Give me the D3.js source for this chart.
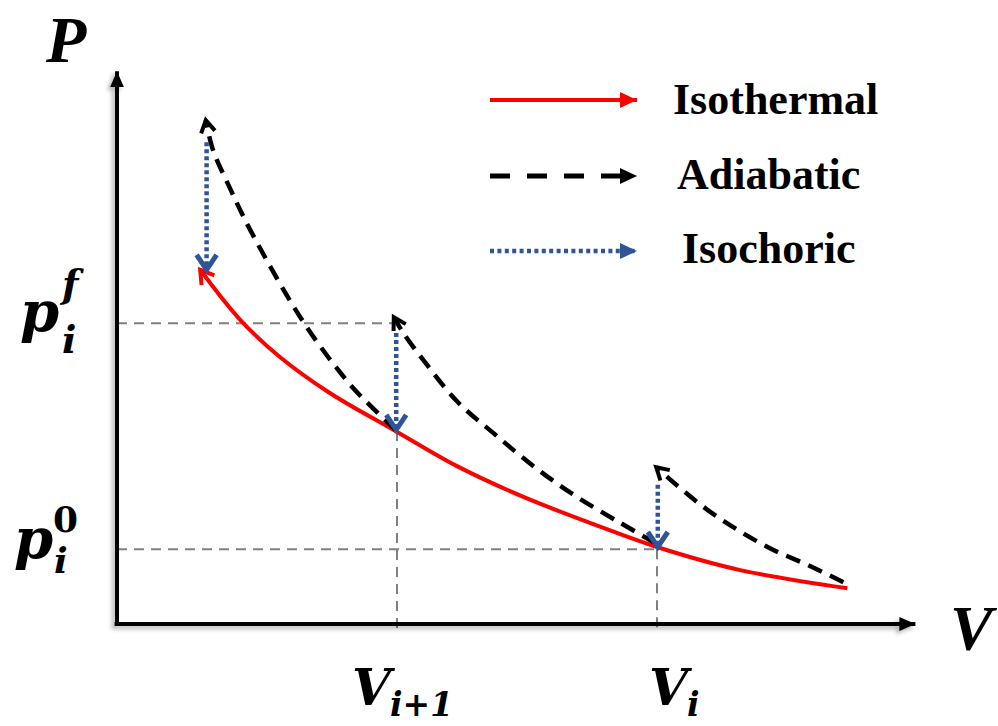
<!DOCTYPE html>
<html>
<head>
<meta charset="utf-8">
<script src="https://cdn.jsdelivr.net/npm/d3@7"></script>
<style>
  body { margin: 0; background: #fff; }
  svg { display: block; }
</style>
</head>
<body>
<div id="chart"></div>
<script>
// values (V and P in arbitrary units, 0..10)
var isothermalV = [9.13, 7.79, 6.75, 5.91, 5.08, 4.25, 3.48, 2.66, 2.04, 1.54, 1.04];
var isothermalP = [0.65, 0.98, 1.40, 1.84, 2.31, 2.87, 3.51, 4.20, 4.85, 5.53, 6.44];

var adiabatic1V = [3.48, 3.16, 2.91, 2.33, 1.66, 1.41, 1.20, 1.11];
var adiabatic1P = [3.53, 3.98, 4.36, 5.49, 7.18, 7.93, 8.62, 9.16];
var adiabatic2V = [6.73, 6.29, 5.75, 5.25, 4.73, 4.25, 3.85, 3.58, 3.46];
var adiabatic2P = [1.47, 1.84, 2.31, 2.82, 3.44, 4.05, 4.76, 5.29, 5.58];
var adiabatic3V = [9.08, 8.64, 8.20, 7.76, 7.33, 6.88, 6.74];
var adiabatic3P = [0.76, 1.07, 1.35, 1.71, 2.13, 2.67, 2.85];

var isochoricV      = [1.12, 3.49, 6.76];
var isochoricTop    = [8.76, 5.29, 2.53];
var isochoricBottom = [6.44, 3.53, 1.40];

var pTickValues = [5.47, 1.36];
var vTickValues = [3.50, 6.75];
var guideEndV   = [3.45, 6.75];

var legendLabels = ["Isothermal", "Adiabatic", "Isochoric"];

var width = 998, height = 726;

var x = d3.scaleLinear().domain([0, 10]).range([117, 917]);
var y = d3.scaleLinear().domain([0, 10]).range([624, 74]);

var svg = d3.select('#chart')
  .append('svg')
  .attr('width', width)
  .attr('height', height);

var defs = svg.append('defs');

// soft shadow under the axes
var shadow = defs.append('filter').attr('id', 'axisShadow')
  .attr('x', '-20%').attr('y', '-20%').attr('width', '140%').attr('height', '140%');
shadow.append('feDropShadow')
  .attr('dx', -3).attr('dy', 3).attr('stdDeviation', 2)
  .attr('flood-color', '#000').attr('flood-opacity', 0.3);

function filledHead(id, color, len, half) {
  defs.append('marker')
    .attr('id', id)
    .attr('markerUnits', 'userSpaceOnUse')
    .attr('viewBox', '0 ' + (-half) + ' ' + len + ' ' + (2 * half))
    .attr('refX', len).attr('refY', 0)
    .attr('markerWidth', len).attr('markerHeight', 2 * half)
    .attr('orient', 'auto')
    .append('path')
    .attr('d', 'M0,' + (-half) + 'L' + len + ',0L0,' + half + 'Z')
    .attr('fill', color);
}

function openHead(id, color, len, half, sw) {
  defs.append('marker')
    .attr('id', id)
    .attr('markerUnits', 'userSpaceOnUse')
    .attr('viewBox', (-sw) + ' ' + (-half - sw) + ' ' + (len + 2 * sw) + ' ' + (2 * half + 2 * sw))
    .attr('refX', len).attr('refY', 0)
    .attr('markerWidth', len + 2 * sw).attr('markerHeight', 2 * half + 2 * sw)
    .attr('orient', 'auto')
    .style('overflow', 'visible')
    .append('path')
    .attr('d', 'M0,' + (-half) + 'L' + len + ',0L0,' + half)
    .attr('fill', 'none')
    .attr('stroke', color)
    .attr('stroke-width', sw)
    .attr('stroke-linejoin', 'miter');
}

var red = '#ff0000', black = '#000000', blue = '#2f5597', gray = '#808080';

filledHead('axisHead', black, 16, 7);
filledHead('legRed', red, 17, 8);
filledHead('legBlack', black, 17, 8);
filledHead('legBlue', blue, 17, 8);
openHead('redHead', red, 13, 8, 4);
openHead('blackHead', black, 12, 7, 4);
openHead('blueHead', blue, 15, 10, 5);

// dashed guide lines
var guides = svg.append('g').attr('class', 'guides');
pTickValues.forEach(function(p, i) {
  guides.append('line')
    .attr('x1', x(0)).attr('x2', x(guideEndV[i]))
    .attr('y1', y(p)).attr('y2', y(p))
    .attr('stroke', gray).attr('stroke-width', 2)
    .attr('stroke-dasharray', '10,7');
});
vTickValues.forEach(function(v, i) {
  guides.append('line')
    .attr('x1', x(v)).attr('x2', x(v))
    .attr('y1', y(i == 0 ? isothermalP[6] : pTickValues[1])).attr('y2', y(-0.08))
    .attr('stroke', gray).attr('stroke-width', 2)
    .attr('stroke-dasharray', '10,7');
});

// axes
var axes = svg.append('g').attr('filter', 'url(#axisShadow)');
axes.append('line')
  .attr('x1', x(0)).attr('y1', y(-0.03))
  .attr('x2', x(0)).attr('y2', y(10.05))
  .attr('stroke', black).attr('stroke-width', 4)
  .attr('marker-end', 'url(#axisHead)');
axes.append('line')
  .attr('x1', x(-0.03)).attr('y1', y(0))
  .attr('x2', x(9.98)).attr('y2', y(0))
  .attr('stroke', black).attr('stroke-width', 4)
  .attr('marker-end', 'url(#axisHead)');

var line = d3.line()
  .x(function(d) { return x(d[0]); })
  .y(function(d) { return y(d[1]); })
  .curve(d3.curveCatmullRom.alpha(0.5));

function zip(a, b) { return a.map(function(v, i) { return [v, b[i]]; }); }

// isothermal
svg.append('path')
  .datum(zip(isothermalV, isothermalP))
  .attr('d', line)
  .attr('fill', 'none')
  .attr('stroke', red).attr('stroke-width', 4)
  .attr('marker-end', 'url(#redHead)');

// adiabatic segments
[[adiabatic1V, adiabatic1P], [adiabatic2V, adiabatic2P], [adiabatic3V, adiabatic3P]].forEach(function(s) {
  svg.append('path')
    .datum(zip(s[0], s[1]))
    .attr('d', line)
    .attr('fill', 'none')
    .attr('stroke', black).attr('stroke-width', 4.5)
    .attr('stroke-dasharray', '15,9')
    .attr('marker-end', 'url(#blackHead)');
});

// isochoric drops
isochoricV.forEach(function(v, i) {
  svg.append('line')
    .attr('x1', x(v)).attr('x2', x(v))
    .attr('y1', y(isochoricTop[i])).attr('y2', y(isochoricBottom[i]))
    .attr('stroke', blue).attr('stroke-width', 4.5)
    .attr('stroke-dasharray', '4,3')
    .attr('marker-end', 'url(#blueHead)');
});

// legend
var legendY = [100, 176, 251];
var legendTextX = [673, 677, 682];
var legendBase = [114, 189, 263];
var legendStyle = [
  {color: red, dash: null, w: 4, head: 'legRed'},
  {color: black, dash: '20,17', w: 5, head: 'legBlack'},
  {color: blue, dash: '4,3.4', w: 4.5, head: 'legBlue'}
];
var legend = svg.append('g').attr('class', 'legend');
legendLabels.forEach(function(lab, i) {
  var st = legendStyle[i];
  legend.append('line')
    .attr('x1', 490).attr('x2', 637)
    .attr('y1', legendY[i]).attr('y2', legendY[i])
    .attr('stroke', st.color).attr('stroke-width', st.w)
    .attr('stroke-dasharray', st.dash)
    .attr('marker-end', 'url(#' + st.head + ')');
  legend.append('text')
    .attr('x', legendTextX[i]).attr('y', legendBase[i])
    .style('font-family', '"Liberation Serif", "Times New Roman", serif')
    .style('font-weight', 'bold')
    .style('font-size', '44px')
    .text(lab);
});

// axis names
svg.append('text')
  .attr('x', 46).attr('y', 62)
  .style('font-family', '"Liberation Serif", serif')
  .style('font-weight', 'bold').style('font-style', 'italic')
  .style('font-size', '66px')
  .text('P');
svg.append('text')
  .attr('x', 950).attr('y', 650)
  .style('font-family', '"Liberation Serif", serif')
  .style('font-weight', 'bold').style('font-style', 'italic')
  .style('font-size', '64px')
  .text('V');

// math labels for guide values
var mathFont = '"DejaVu Serif", serif';
function mathLabel(px, py, main, sup, sub, opts) {
  var g = svg.append('g');
  g.append('text').attr('x', px).attr('y', py)
    .style('font-family', mathFont).style('font-weight', 'bold').style('font-style', 'italic')
    .style('font-size', opts.size + 'px')
    .text(main);
  if (sup) {
    g.append('text').attr('x', px + opts.supDx).attr('y', py + opts.supDy)
      .style('font-family', mathFont).style('font-weight', 'bold')
      .style('font-style', opts.supItalic ? 'italic' : 'normal')
      .style('font-size', opts.small + 'px')
      .text(sup);
  }
  if (sub) {
    g.append('text').attr('x', px + opts.subDx).attr('y', py + opts.subDy)
      .style('font-family', mathFont).style('font-weight', 'bold').style('font-style', 'italic')
      .style('font-size', opts.small + 'px')
      .text(sub);
  }
}

mathLabel(20, y(pTickValues[0]) + 8, 'p', 'f', 'i',
  {size: 56, small: 38, supDx: 42, supDy: -34, supItalic: true, subDx: 42, subDy: 22});
mathLabel(14, y(pTickValues[1]) + 9, 'p', '0', 'i',
  {size: 56, small: 36, supDx: 39, supDy: -26, supItalic: false, subDx: 40, subDy: 15});

mathLabel(x(vTickValues[0]) - 45, y(0) + 81, 'V', null, 'i+1',
  {size: 50, small: 33, subDx: 38, subDy: 11});
mathLabel(x(vTickValues[1]) - 8, y(0) + 81, 'V', null, 'i',
  {size: 50, small: 33, subDx: 38, subDy: 11});
</script>
</body>
</html>
